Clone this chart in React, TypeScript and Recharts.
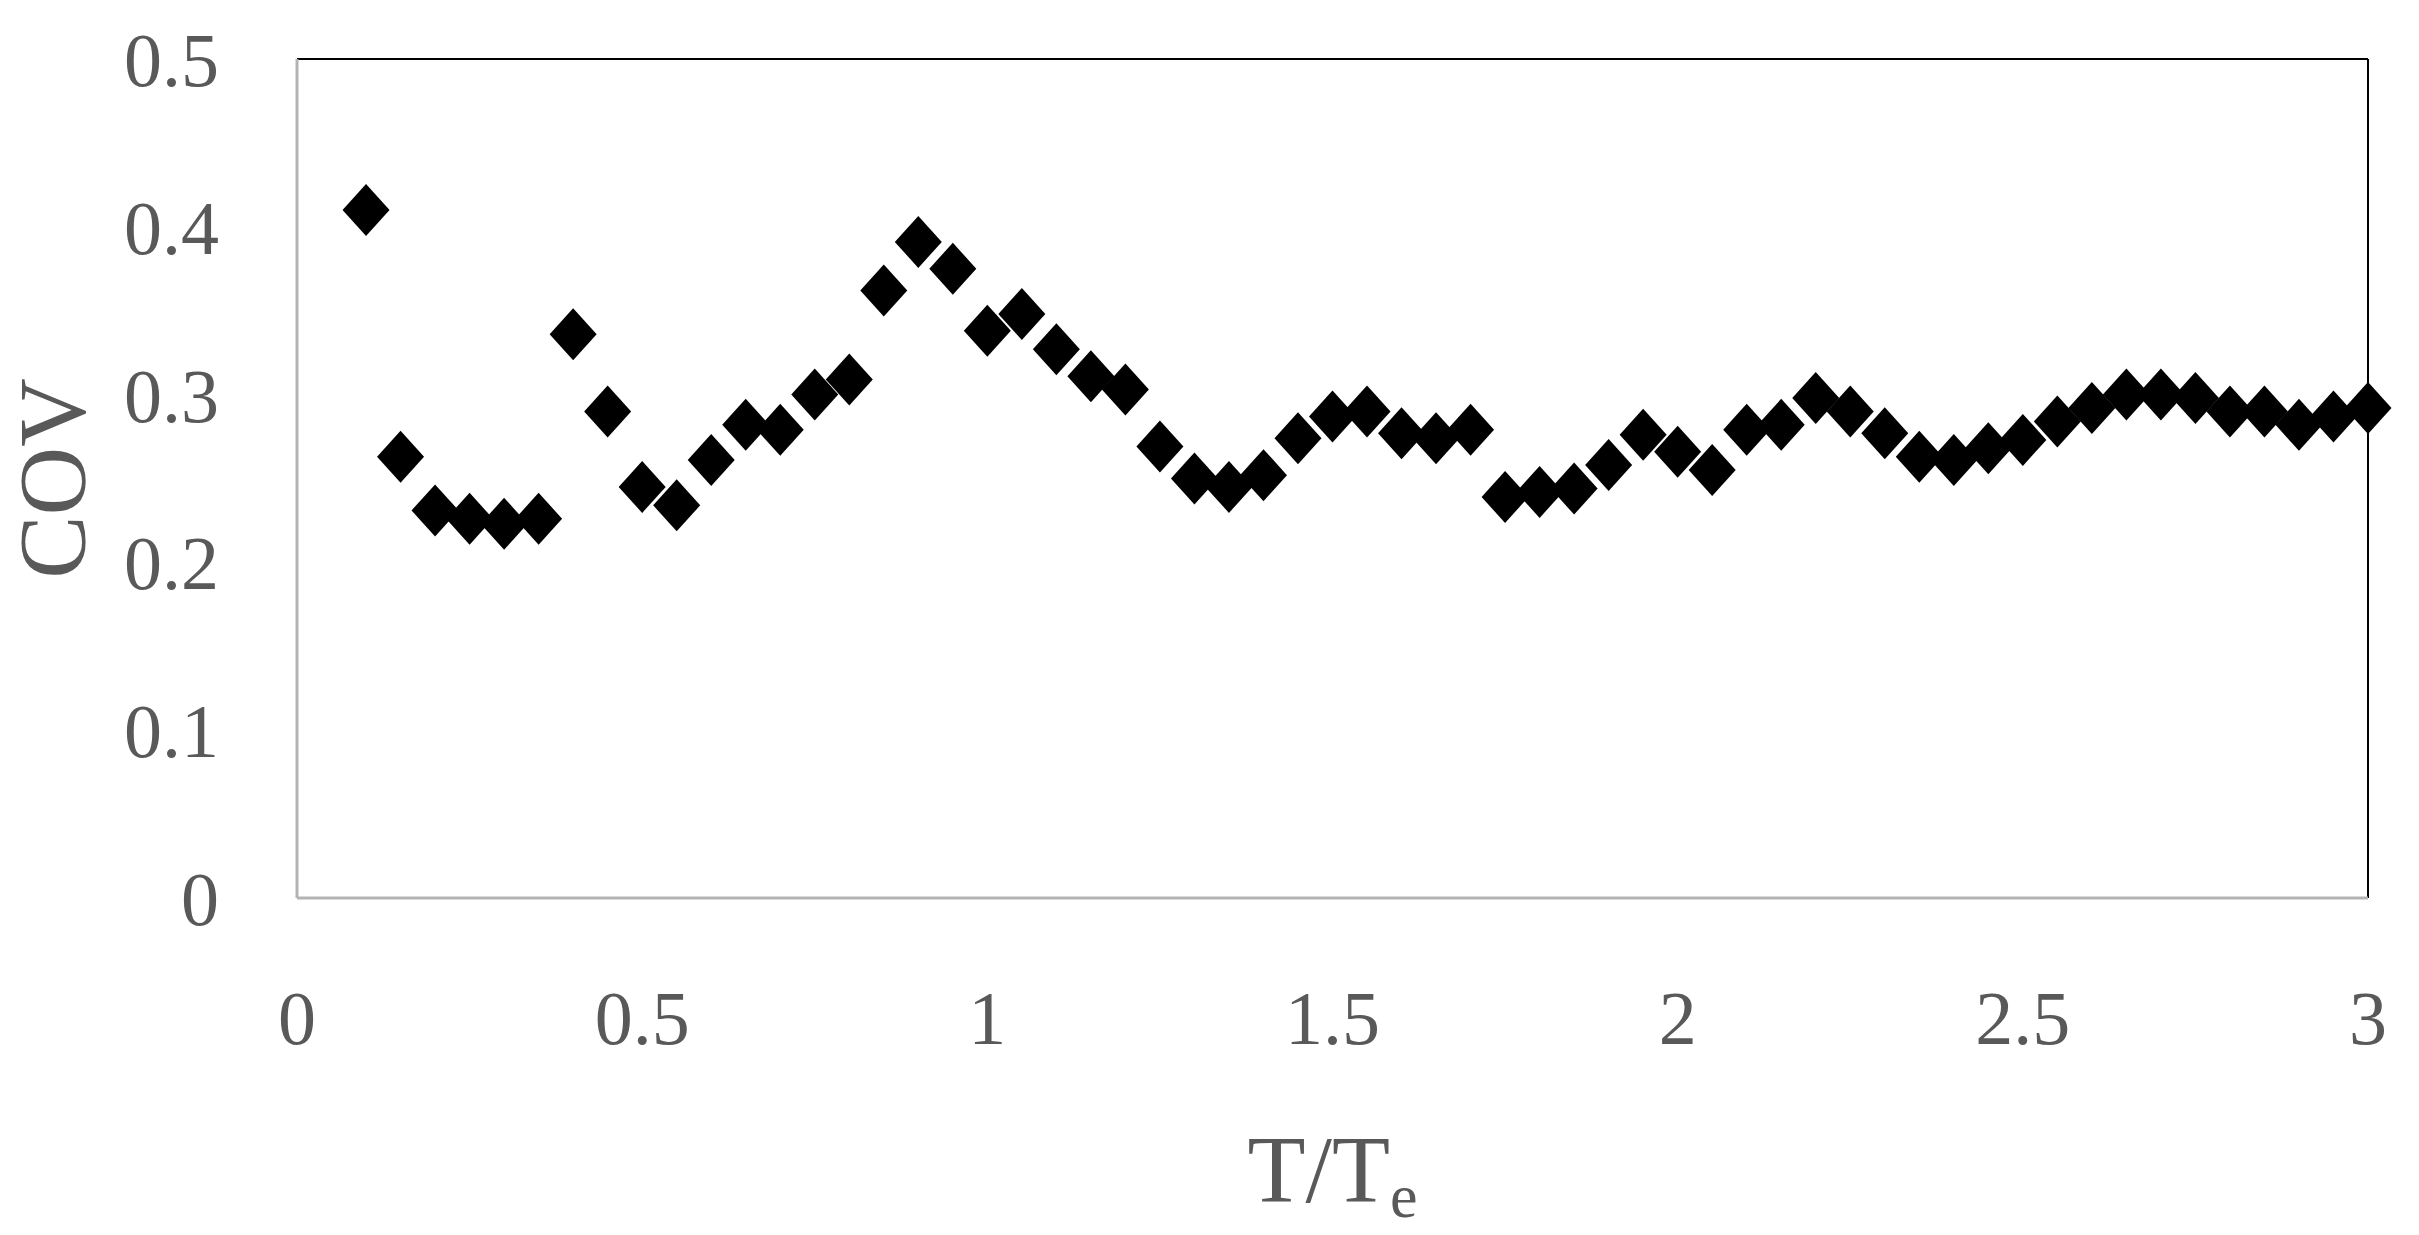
import { ScatterChart, Scatter, XAxis, YAxis, ReferenceLine, Label } from 'recharts'

// T/Te sampled every 0.05 from 0.1 to 3
const periodRatios = [
    0.1, 0.15, 0.2, 0.25, 0.3, 0.35, 0.4, 0.45, 0.5, 0.55,
    0.6, 0.65, 0.7, 0.75, 0.8, 0.85, 0.9, 0.95, 1.0, 1.05,
    1.1, 1.15, 1.2, 1.25, 1.3, 1.35, 1.4, 1.45, 1.5, 1.55,
    1.6, 1.65, 1.7, 1.75, 1.8, 1.85, 1.9, 1.95, 2.0, 2.05,
    2.1, 2.15, 2.2, 2.25, 2.3, 2.35, 2.4, 2.45, 2.5, 2.55,
    2.6, 2.65, 2.7, 2.75, 2.8, 2.85, 2.9, 2.95, 3.0,
]

const covValues = [
    0.41, 0.263, 0.231, 0.226, 0.223, 0.226, 0.336, 0.29, 0.245, 0.234,
    0.261, 0.282, 0.279, 0.3, 0.309, 0.362, 0.391, 0.375, 0.338, 0.348,
    0.327, 0.311, 0.303, 0.269, 0.25, 0.245, 0.252, 0.274, 0.287, 0.29,
    0.277, 0.274, 0.279, 0.239, 0.242, 0.244, 0.258, 0.276, 0.266, 0.255,
    0.279, 0.282, 0.298, 0.29, 0.277, 0.263, 0.261, 0.268, 0.273, 0.284,
    0.292, 0.3, 0.3, 0.298, 0.29, 0.29, 0.282, 0.287, 0.292,
]

const xTicks = [0, 0.5, 1, 1.5, 2, 2.5, 3]
const yTicks = [0, 0.1, 0.2, 0.3, 0.4, 0.5]

const points = periodRatios.map((t, i) => ({ t, cov: covValues[i] }))

const FONT = '"Liberation Serif", "Times New Roman", serif'
const GREY_TEXT = '#595959'

function Diamond(props: any) {
    const { cx, cy } = props
    const w = 23.5
    const h = 26
    return (
        <polygon
            points={`${cx},${cy - h} ${cx + w},${cy} ${cx},${cy + h} ${cx - w},${cy}`}
            fill="#000"
        />
    )
}

export default function App() {
    return (
        <div style={{ position: 'absolute', left: 0, top: 0, background: '#fff' }}>
            <ScatterChart
                width={2419}
                height={1235}
                margin={{ top: 59, right: 51, bottom: 0, left: 0 }}
            >
                <XAxis
                    type="number"
                    dataKey="t"
                    domain={[0, 3]}
                    ticks={xTicks}
                    height={337}
                    tickSize={0}
                    tickMargin={92}
                    tickLine={false}
                    axisLine={{ stroke: '#b3b3b3', strokeWidth: 3 }}
                    tick={{ fontSize: 76, fill: GREY_TEXT, fontFamily: FONT }}
                >
                    <Label
                        content={({ viewBox }: any) => (
                            <text
                                x={viewBox.x + viewBox.width / 2}
                                y={viewBox.y + 304}
                                textAnchor="middle"
                                fill={GREY_TEXT}
                                fontFamily={FONT}
                                fontSize={95}
                            >
                                <tspan>T/T</tspan>
                                <tspan fontSize={62} dy={15}>e</tspan>
                            </text>
                        )}
                    />
                </XAxis>
                <YAxis
                    type="number"
                    dataKey="cov"
                    domain={[0, 0.5]}
                    ticks={yTicks}
                    width={297}
                    tickSize={0}
                    tickMargin={78}
                    tickLine={false}
                    axisLine={{ stroke: '#b3b3b3', strokeWidth: 3 }}
                    tick={{ fontSize: 76, fill: GREY_TEXT, fontFamily: FONT }}
                >
                    <Label
                        content={({ viewBox }: any) => {
                            const x = viewBox.x + 85
                            const y = viewBox.y + viewBox.height / 2
                            return (
                                <text
                                    x={x}
                                    y={y}
                                    transform={`rotate(-90, ${x}, ${y})`}
                                    textAnchor="middle"
                                    fill={GREY_TEXT}
                                    fontFamily={FONT}
                                    fontSize={95}
                                >
                                    COV
                                </text>
                            )
                        }}
                    />
                </YAxis>
                <ReferenceLine y={0.5} stroke="#000" strokeWidth={2} />
                <ReferenceLine x={3} stroke="#000" strokeWidth={2} />
                <Scatter
                    data={points}
                    shape={Diamond}
                    fill="#000"
                    isAnimationActive={false}
                />
            </ScatterChart>
        </div>
    )
}
